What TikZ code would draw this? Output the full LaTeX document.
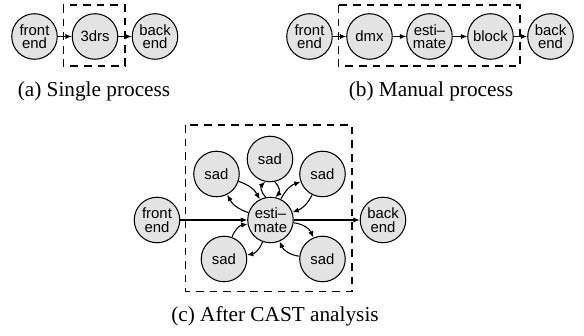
\documentclass[tikz,border=0pt]{standalone}
\usepackage{fontspec}
\setmainfont{Liberation Serif}
\newfontfamily\nodefont{Liberation Sans}
\usetikzlibrary{arrows.meta}
\begin{document}
\begin{tikzpicture}[x=0.47pt,y=0.47pt,
  proc/.style={circle,draw,fill=black!11,minimum size=21.4pt,inner sep=0pt,line width=0.5pt,
    font=\nodefont\fontsize{7}{6.3}\selectfont,align=center},
  flow/.style={-{Latex[length=3pt,width=2.5pt]},line width=0.5pt},
  grp/.style={draw,dash pattern=on 3.6pt off 2.8pt,line width=0.5pt},
  captxt/.style={anchor=base,inner sep=0pt,font=\fontsize{10}{12}\selectfont}]
\useasboundingbox (0,0) rectangle (584,336);
% (a)
\draw[grp] (63.3,331) rectangle (125,270);
\node[proc] (fa) at (34.5,299.5) {front\\end};
\node[proc] (ta) at (95,299.5) {3drs};
\node[proc] (ba) at (155,299.5) {back\\end};
\draw[flow] (fa) -- (ta);
\draw[flow] (ta) -- (ba);
\node[captxt] (capa) at (94,239) {(a) Single process};
% (b)
\draw[grp] (338.3,331) rectangle (520,270);
\node[proc] (fb) at (309.5,299.5) {front\\end};
\node[proc] (dmx) at (369.5,299.5) {dmx};
\node[proc] (estb) at (429.5,299.5) {esti–\\mate};
\node[proc] (blk) at (490.5,299.5) {block};
\node[proc] (bb) at (550.5,299.5) {back\\end};
\draw[flow] (fb) -- (dmx);
\draw[flow] (dmx) -- (estb);
\draw[flow] (estb) -- (blk);
\draw[flow] (blk) -- (bb);
\node[captxt] (capb) at (431,239) {(b) Manual process};
% (c)
\draw[grp] (185.7,211) rectangle (352,44.3);
\node[proc] (fc) at (157,116) {front\\end};
\node[proc] (est) at (270.5,116) {esti–\\mate};
\node[proc] (bc) at (383,116) {back\\end};
\node[proc] (s1) at (216.5,162) {sad};
\node[proc] (s2) at (270,177) {sad};
\node[proc] (s3) at (322.5,162) {sad};
\node[proc] (s4) at (224,77) {sad};
\node[proc] (s5) at (322.5,77) {sad};
\draw[flow] (fc) -- (est);
\draw[flow] (est) -- (bc);
\draw[flow] (est.102) to[out=135,in=225,looseness=1.1] (s2.258);
\draw[flow] (s2.282) to[out=-45,in=45,looseness=1.1] (est.78);
\draw[flow] (est) to[bend left=22] (s1);
\draw[flow] (s1) to[bend left=22] (est);
\draw[flow] (est) to[bend left=22] (s3);
\draw[flow] (s3) to[bend left=22] (est);
\draw[flow] (est) to[bend left=30] (s4);
\draw[flow] (s4) to[bend left=30] (est);
\draw[flow] (est) to[bend left=30] (s5);
\draw[flow] (s5) to[bend left=30] (est);
\node[captxt] (capc) at (275,14) {(c) After CAST analysis};
\end{tikzpicture}
\end{document}
